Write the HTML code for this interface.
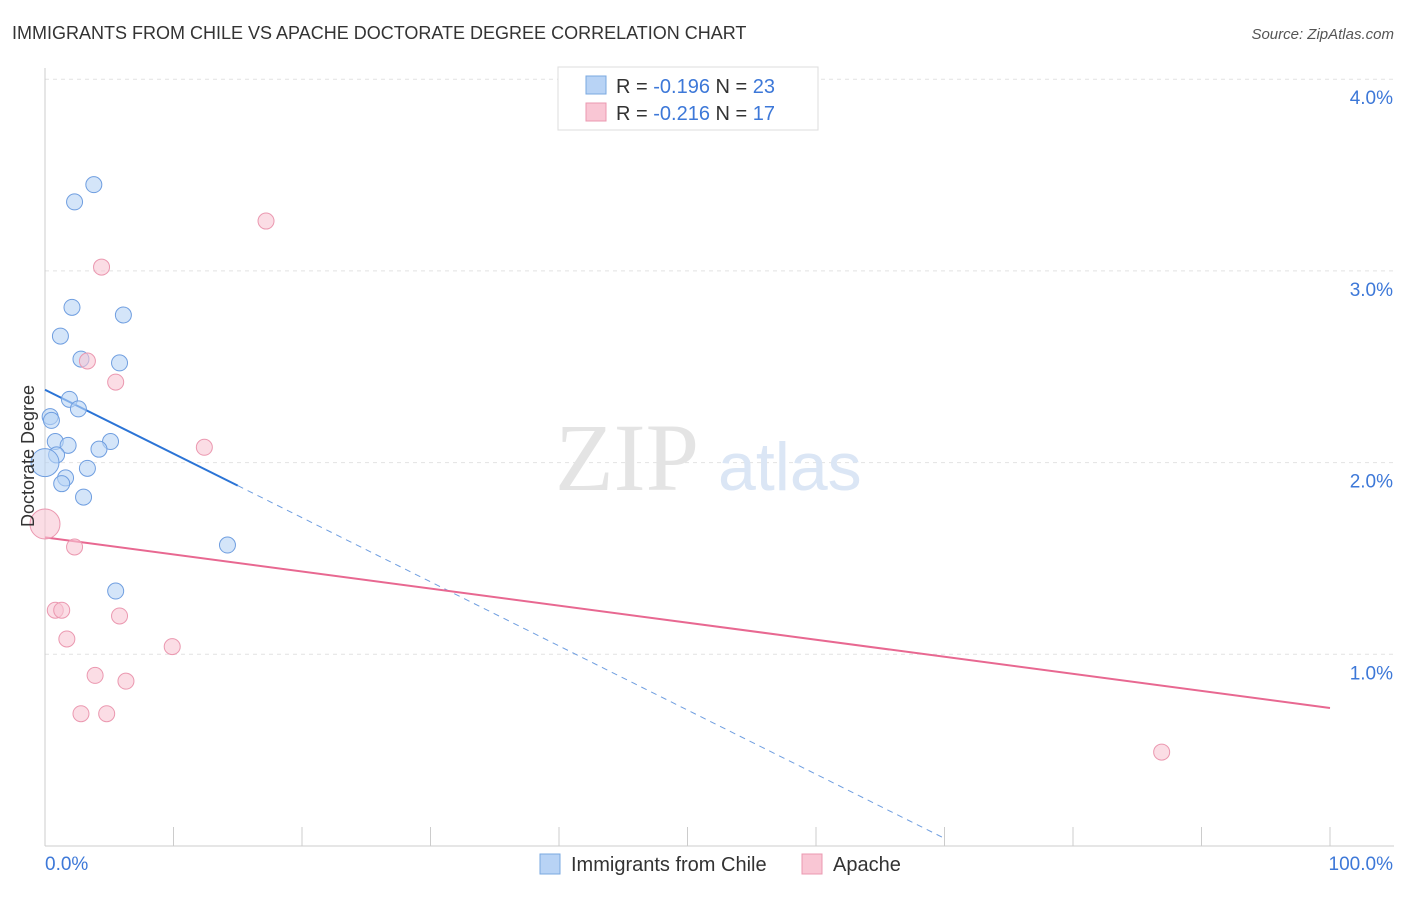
<!DOCTYPE html>
<html><head><meta charset="utf-8"><style>
body{margin:0;background:#fff;font-family:"Liberation Sans",sans-serif;}
</style></head><body>
<svg width="1406" height="892" xmlns="http://www.w3.org/2000/svg" style="font-family:'Liberation Sans',sans-serif">
<text x="12" y="39" font-size="18" fill="#333">IMMIGRANTS FROM CHILE VS APACHE DOCTORATE DEGREE CORRELATION CHART</text>
<text x="1394" y="39" font-size="15" fill="#555" font-style="italic" text-anchor="end">Source: ZipAtlas.com</text>
<g id="grid"></g>
<text x="555" y="490" font-size="96" fill="#e4e4e4" font-family="Liberation Serif">ZIP</text>
<text x="718" y="490" font-size="68" fill="#dbe6f5">atlas</text>
<g id="axes"></g>
<g id="lines"></g>
<g id="pts"></g>
<g>
<rect x="558" y="67" width="260" height="63" fill="#fff" stroke="#ddd"/>
<rect x="586" y="76" width="20" height="18" fill="#b8d3f5" stroke="#7aa8e0"/>
<rect x="586" y="103" width="20" height="18" fill="#f9c6d4" stroke="#eb98b0"/>
<text x="616" y="93" font-size="20" fill="#333">R = <tspan fill="#3d78d8">-0.196</tspan>   N = <tspan fill="#3d78d8">23</tspan></text>
<text x="616" y="120" font-size="20" fill="#333">R = <tspan fill="#3d78d8">-0.216</tspan>   N = <tspan fill="#3d78d8"> 17</tspan></text>
</g>
<g>
<rect x="540" y="854" width="20" height="20" fill="#b8d3f5" stroke="#7aa8e0"/>
<text x="571" y="871" font-size="20" fill="#333">Immigrants from Chile</text>
<rect x="802" y="854" width="20" height="20" fill="#f9c6d4" stroke="#eb98b0"/>
<text x="833" y="871" font-size="20" fill="#333">Apache</text>
</g>
<text transform="translate(34,456) rotate(-90)" font-size="18" fill="#333" text-anchor="middle">Doctorate Degree</text>
</svg>
<script>
const yTicks=[1,2,3,4];
const yTickLabels=["1.0%","2.0%","3.0%","4.0%"];
const xTickLabels=["0.0%","100.0%"];
const chileX=[3.8,2.3,2.1,6.1,1.2,2.8,5.8,1.9,2.6,0.4,0.5,0.8,1.8,5.1,4.2,0.9,3.3,1.6,1.3,3.0,14.2,5.5,0.0];
const chileY=[3.45,3.36,2.81,2.77,2.66,2.54,2.52,2.33,2.28,2.24,2.22,2.11,2.09,2.11,2.07,2.04,1.97,1.92,1.89,1.82,1.57,1.33,2.0];
const chileR=[8,8,8,8,8,8,8,8,8,8,8,8,8,8,8,8,8,8,8,8,8,8,14];
const apacheX=[17.2,4.4,3.3,5.5,12.4,0.0,2.3,0.8,1.3,5.8,1.7,9.9,3.9,6.3,2.8,4.8,86.9];
const apacheY=[3.26,3.02,2.53,2.42,2.08,1.68,1.56,1.23,1.23,1.2,1.08,1.04,0.89,0.86,0.69,0.69,0.49];
const apacheR=[8,8,8,8,8,15,8,8,8,8,8,8,8,8,8,8,8];
const chileLine=[0,2.38,15,1.88,70,0.04];
const apacheLine=[0,1.61,100,0.72];
const X=v=>45+v*12.85, Y=v=>846-v*191.7;
const NS="http://www.w3.org/2000/svg";
function mk(t,a,p){const e=document.createElementNS(NS,t);for(const k in a)e.setAttribute(k,a[k]);p.appendChild(e);return e;}
const g=document.getElementById('grid'),ax=document.getElementById('axes'),ln=document.getElementById('lines'),pt=document.getElementById('pts');
yTicks.forEach((t,i)=>{const l=mk('line',{x1:45,x2:1394,y1:Y(t),y2:Y(t),stroke:'#e2e2e2','stroke-dasharray':'4,4'},g);


const tx=mk('text',{x:1393,y:Y(t)+25,'font-size':19,fill:'#3d78d8','text-anchor':'end'},ax);tx.textContent=yTickLabels[i];

});
mk('line',{x1:45,x2:45,y1:68,y2:846,stroke:'#ccc'},ax);
mk('line',{x1:45,x2:1394,y1:846,y2:846,stroke:'#ccc'},ax);
for(let i=0;i<=10;i++){mk('line',{x1:X(i*10),x2:X(i*10),y1:827,y2:846,stroke:'#ccc'},ax);}
const xl=mk('text',{x:45,y:870,'font-size':19,fill:'#3d78d8'},ax);xl.textContent=xTickLabels[0];


const xr=mk('text',{x:1393,y:870,'font-size':19,fill:'#3d78d8','text-anchor':'end'},ax);xr.textContent=xTickLabels[1];


const b1=mk('line',{x1:X(chileLine[0]),y1:Y(chileLine[1]),x2:X(chileLine[2]),y2:Y(chileLine[3]),stroke:'#2b74d6','stroke-width':2},ln);


const b2=mk('line',{x1:X(chileLine[2]),y1:Y(chileLine[3]),x2:X(chileLine[4]),y2:Y(chileLine[5]),stroke:'#6f9ee0','stroke-width':1,'stroke-dasharray':'6,5'},ln);


const p1=mk('line',{x1:X(apacheLine[0]),y1:Y(apacheLine[1]),x2:X(apacheLine[2]),y2:Y(apacheLine[3]),stroke:'#e86891','stroke-width':2},ln);


chileX.forEach((v,i)=>{const c=mk('circle',{cx:X(v),cy:Y(chileY[i]),r:chileR[i],fill:'rgba(184,211,245,0.6)',stroke:'#6f9ee0','stroke-width':1},pt);

});
apacheX.forEach((v,i)=>{const c=mk('circle',{cx:X(v),cy:Y(apacheY[i]),r:apacheR[i],fill:'rgba(249,198,212,0.6)',stroke:'#eb98b0','stroke-width':1},pt);

});
</script>
</body></html>
